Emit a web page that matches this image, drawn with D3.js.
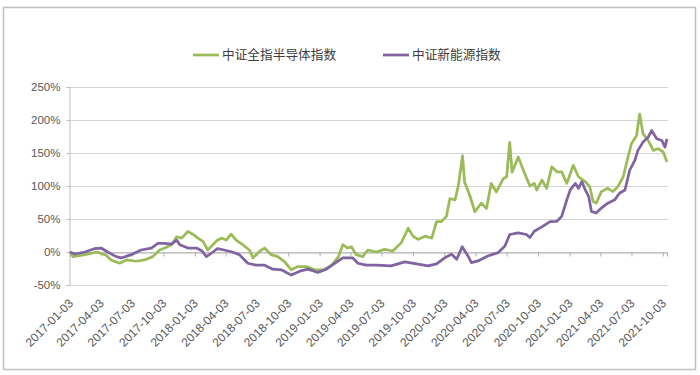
<!DOCTYPE html>
<html>
<head>
<meta charset="utf-8">
<script src="https://cdn.jsdelivr.net/npm/d3@7"></script>
<style>
  body { margin: 0; background: #fff; }
  svg text { font-family: "Liberation Sans", Arial, sans-serif; }
</style>
</head>
<body>
<div id="chart"></div>
<script>
// 中证全指半导体指数 (cumulative return %)
const semiDates = [
  '2017-01-03','2017-01-12','2017-02-16','2017-03-24','2017-04-19','2017-05-03','2017-05-28','2017-06-17',
  '2017-07-15','2017-08-09','2017-09-02','2017-09-22','2017-10-07','2017-10-27','2017-11-11','2017-11-25',
  '2017-12-14','2017-12-28','2018-01-12','2018-01-27','2018-02-10','2018-02-25','2018-03-10','2018-03-24',
  '2018-04-05','2018-04-19','2018-05-04','2018-05-23','2018-06-12','2018-06-22','2018-07-11','2018-07-26',
  '2018-08-14','2018-09-03','2018-09-23','2018-10-12','2018-11-01','2018-11-26','2018-12-20','2019-01-14',
  '2019-02-08','2019-02-27','2019-03-12','2019-03-26','2019-04-06','2019-04-20','2019-05-09','2019-05-24',
  '2019-06-18','2019-07-12','2019-08-05','2019-08-30','2019-09-19','2019-10-03','2019-10-18','2019-11-07',
  '2019-11-27','2019-12-11','2019-12-25','2020-01-09','2020-01-19','2020-02-03','2020-02-13','2020-02-25',
  '2020-03-02','2020-03-17','2020-04-01','2020-04-20','2020-05-05','2020-05-19','2020-06-03','2020-06-23',
  '2020-07-03','2020-07-12','2020-07-19','2020-08-06','2020-08-21','2020-09-09','2020-09-22','2020-09-29',
  '2020-10-14','2020-10-28','2020-11-12','2020-11-27','2020-12-11','2020-12-26','2021-01-14','2021-01-29',
  '2021-02-18','2021-03-03','2021-03-13','2021-03-22','2021-04-06','2021-04-25','2021-05-10','2021-05-24',
  '2021-06-09','2021-06-23','2021-07-03','2021-07-18','2021-07-27','2021-08-06','2021-08-21','2021-09-05',
  '2021-09-19','2021-10-04','2021-10-15'
];
const semiValues = [
  0, -7, -4, 0, -5, -12, -17, -12,
  -14, -12, -7, 3, 6, 11, 23, 21,
  31, 27, 21, 16, 3, 11, 18, 21,
  18, 27, 18, 11, 3, -9, 1, 6,
  -4, -7, -15, -27, -22, -22, -27, -27,
  -20, -7, 11, 6, 8, -4, -7, 3,
  0, 4, 1.5, 14, 36, 24, 19, 24,
  21, 46, 46, 54, 81, 79, 101, 146,
  106, 86, 61, 74, 66, 104, 91, 111,
  114, 166, 121, 144, 124, 100, 104, 94,
  109, 96.5, 129, 121.5, 121.5, 104, 131.5, 114,
  106.5, 99, 76.5, 74, 91.5, 96.5, 91.5, 99,
  114, 144, 164, 176.5, 209, 179, 169, 154,
  156.5, 151.5, 136.5
];

// 中证新能源指数
const neDates = [
  '2017-01-03','2017-01-17','2017-02-16','2017-03-15','2017-04-04','2017-04-23','2017-05-18','2017-06-02',
  '2017-07-01','2017-07-30','2017-08-29','2017-09-17','2017-10-07','2017-10-27','2017-11-11','2017-11-20',
  '2017-12-14','2018-01-08','2018-01-23','2018-02-06','2018-02-25','2018-03-10','2018-03-30','2018-04-23',
  '2018-05-13','2018-06-07','2018-07-01','2018-07-26','2018-08-19','2018-09-13','2018-10-12','2018-11-06',
  '2018-11-30','2018-12-29','2019-01-23','2019-02-17','2019-03-12','2019-04-10','2019-04-25','2019-05-19',
  '2019-06-18','2019-07-31','2019-09-09','2019-10-18','2019-11-16','2019-12-11','2020-01-05','2020-01-24',
  '2020-02-08','2020-02-24','2020-03-12','2020-03-22','2020-04-10','2020-05-09','2020-06-08','2020-06-28',
  '2020-07-12','2020-08-06','2020-08-30','2020-09-09','2020-09-22','2020-10-14','2020-11-07','2020-11-27',
  '2020-12-11','2020-12-26','2021-01-05','2021-01-20','2021-01-29','2021-02-08','2021-02-18','2021-02-28',
  '2021-03-08','2021-03-22','2021-04-06','2021-04-25','2021-05-15','2021-05-29','2021-06-14','2021-06-28',
  '2021-07-13','2021-07-22','2021-08-06','2021-08-21','2021-08-31','2021-09-15','2021-09-30','2021-10-09',
  '2021-10-15'
];
const neValues = [
  0, -3, 0, 5, 6, 0, -7, -9,
  -4, 3, 6, 13, 13, 12, 18, 11,
  6, 6, 2, -7, 0, 5, 3, 0,
  -4, -17, -20, -20, -26, -27, -35, -29,
  -26, -31, -26, -17, -9, -9, -17, -20,
  -20, -21, -15, -18.5, -21, -18, -8.5, -3.5,
  -11, 8, -6, -16, -13.5, -6, -1, 9,
  26.5, 29, 26.5, 22, 31.5, 38, 46, 46.5,
  54, 79, 94, 104, 96.5, 106.5, 94, 84,
  61.5, 59, 66.5, 74, 79, 89, 94, 124,
  139, 154, 166.5, 174, 184, 171.5, 169, 159,
  171.5
];

const seriesNames = ['中证全指半导体指数', '中证新能源指数'];
const seriesColors = ['#9bbb59', '#8064a2'];

const yTicks = [-50, 0, 50, 100, 150, 200, 250];
const xTickLabels = [
  '2017-01-03','2017-04-03','2017-07-03','2017-10-03','2018-01-03','2018-04-03','2018-07-03',
  '2018-10-03','2019-01-03','2019-04-03','2019-07-03','2019-10-03','2020-01-03','2020-04-03',
  '2020-07-03','2020-10-03','2021-01-03','2021-04-03','2021-07-03','2021-10-03'
];

const width = 700;
const height = 375;
const margin = { top: 87, right: 33, bottom: 90, left: 70 };

const parse = d3.timeParse('%Y-%m-%d');

const svg = d3.select('#chart')
  .append('svg')
  .attr('width', width)
  .attr('height', height);

// outer frame
svg.append('rect')
  .attr('x', 3.5).attr('y', 7.5)
  .attr('width', 692).attr('height', 362)
  .attr('fill', 'none')
  .attr('stroke', '#bfbfbf')
  .attr('stroke-width', 1.5);

const x = d3.scaleTime()
  .domain([parse('2017-01-03'), parse('2021-10-15')])
  .range([margin.left, width - margin.right]);

const y = d3.scaleLinear()
  .domain([-50, 250])
  .range([height - margin.bottom, margin.top]);

// gridlines
svg.append('g')
  .selectAll('line')
  .data(yTicks)
  .join('line')
    .attr('x1', margin.left - 1)
    .attr('x2', width - margin.right + 1)
    .attr('y1', d => Math.round(y(d)) + 0.5)
    .attr('y2', d => Math.round(y(d)) + 0.5)
    .attr('stroke', '#d4d4d4')
    .attr('stroke-width', 1.2);

// y axis
const yAxis = svg.append('g')
  .attr('transform', `translate(${margin.left - 0.5},0)`)
  .call(d3.axisLeft(y).tickValues(yTicks).tickSize(3).tickPadding(6).tickFormat(d => d + '%'));
yAxis.select('.domain').attr('stroke', '#bdbdbd');
yAxis.selectAll('.tick line').attr('stroke', '#bdbdbd');
yAxis.selectAll('text').attr('font-size', 11.5).attr('fill', '#595959');

// x axis on the 0% line
const xAxis = svg.append('g')
  .attr('transform', `translate(0,${Math.round(y(0)) + 0.5})`)
  .call(d3.axisBottom(x).tickValues(xTickLabels.map(parse)).tickSize(4).tickFormat(''));
xAxis.select('.domain').attr('stroke', '#b0b0b0');
xAxis.selectAll('.tick line').attr('stroke', '#b0b0b0');

// rotated date labels at the bottom
svg.append('g')
  .selectAll('text')
  .data(xTickLabels)
  .join('text')
    .attr('transform', d => `translate(${x(parse(d)) + 4},${y(-50) + 19}) rotate(-45)`)
    .attr('text-anchor', 'end')
    .attr('font-size', 12)
    .attr('fill', '#595959')
    .text(d => d);

const line = d3.line()
  .x(d => x(d[0]))
  .y(d => y(d[1]));

const series = [
  semiDates.map((d, i) => [parse(d), semiValues[i]]),
  neDates.map((d, i) => [parse(d), neValues[i]])
];

svg.append('g')
  .selectAll('path')
  .data(series)
  .join('path')
    .attr('fill', 'none')
    .attr('stroke', (d, i) => seriesColors[i])
    .attr('stroke-width', 2.75)
    .attr('stroke-linejoin', 'round')
    .attr('d', line);

// legend
const legendX = [193, 383];
const legend = svg.append('g')
  .selectAll('g')
  .data(seriesNames)
  .join('g')
    .attr('transform', (d, i) => `translate(${legendX[i]},55)`);
legend.append('line')
  .attr('x1', 0).attr('x2', 26)
  .attr('stroke', (d, i) => seriesColors[i])
  .attr('stroke-width', 2.75);
legend.append('text')
  .attr('x', 29)
  .attr('dy', '0.35em')
  .attr('font-size', 12.7)
  .attr('fill', '#404040')
  .style('font-family', '"Noto Sans CJK SC", sans-serif')
  .text(d => d);
</script>
</body>
</html>
